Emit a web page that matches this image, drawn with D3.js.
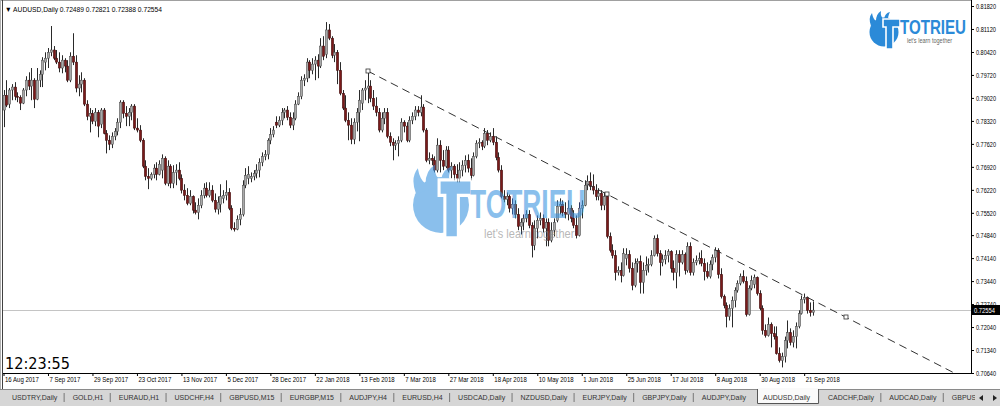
<!DOCTYPE html>
<html><head><meta charset="utf-8">
<script src="https://cdn.jsdelivr.net/npm/d3@7"></script>
<style>html,body{margin:0;padding:0;background:#fff;overflow:hidden}svg{display:block}</style>
</head><body><svg id="c" width="1000" height="406"></svg>
<script>
// ---------------- DATA ----------------
const headerText = "\u25BC AUDUSD,Daily  0.72489 0.72821 0.72388 0.72554";
const opens = [
.7865,.7910,.7883,.7926,.7935,.7907,.7904,.7886,.7926,.7956,
.7938,.7956,.7898,.7956,.7974,.8011,.8023,.8041,.8048,.8023,
.8011,.7993,.8017,.7999,.7956,.8029,.8011,.7932,.7944,.7956,
.7883,.7846,.7855,.7831,.7858,.7822,.7865,.7794,.7773,.7761,
.7785,.7800,.7828,.7889,.7855,.7846,.7858,.7877,.7810,.7804,
.7773,.7694,.7663,.7657,.7669,.7688,.7669,.7682,.7718,.7642,
.7694,.7642,.7675,.7682,.7657,.7621,.7605,.7581,.7602,.7560,
.7553,.7575,.7605,.7627,.7605,.7621,.7590,.7563,.7578,.7596,
.7605,.7614,.7566,.7505,.7502,.7532,.7547,.7636,.7657,.7657,
.7663,.7672,.7682,.7706,.7724,.7730,.7773,.7791,.7828,.7819,
.7834,.7858,.7865,.7843,.7819,.7840,.7883,.7907,.7956,.7962,
.8011,.7986,.8005,.8017,.7999,.8060,.8035,.8109,.8084,.8032,
.8041,.7986,.7916,.7871,.7834,.7819,.7776,.7828,.7858,.7886,
.7926,.7932,.7938,.7901,.7877,.7858,.7804,.7840,.7858,.7785,
.7767,.7758,.7764,.7773,.7828,.7816,.7773,.7834,.7846,.7865,
.7858,.7874,.7804,.7712,.7718,.7712,.7682,.7758,.7712,.7694,
.7743,.7682,.7694,.7669,.7657,.7682,.7697,.7712,.7688,.7666,
.7724,.7764,.7767,.7755,.7794,.7773,.7785,.7767,.7721,.7682,
.7602,.7593,.7602,.7566,.7578,.7547,.7511,.7523,.7535,.7547,
.7514,.7453,.7505,.7529,.7535,.7505,.7523,.7468,.7499,.7529,
.7572,.7578,.7553,.7547,.7566,.7535,.7514,.7483,.7566,.7575,
.7636,.7648,.7633,.7621,.7602,.7611,.7575,.7602,.7480,.7438,
.7422,.7370,.7377,.7361,.7413,.7425,.7383,.7331,.7398,.7404,
.7340,.7377,.7392,.7395,.7422,.7474,.7428,.7401,.7410,.7422,
.7434,.7383,.7370,.7425,.7401,.7425,.7377,.7450,.7370,.7401,
.7407,.7413,.7398,.7373,.7358,.7395,.7416,.7438,.7364,.7297,
.7270,.7236,.7261,.7285,.7316,.7337,.7358,.7343,.7242,.7322,
.7334,.7355,.7306,.7261,.7194,.7178,.7212,.7184,.7175,.7123,
.7102,.7114,.7163,.7187,.7157,.7175,.7206,.7245,.7288,.7294,
.7255,.72489];
const highs = [
.7926,.7956,.7932,.7944,.7950,.7919,.7910,.7932,.7968,.7980,
.7993,.7962,.7993,.7986,.8026,.8041,.8054,.8121,.8060,.8048,
.8041,.8032,.8023,.8017,.8041,.8099,.8032,.7971,.7980,.7962,
.7895,.7871,.7865,.7871,.7865,.7871,.7871,.7804,.7788,.7797,
.7810,.7840,.7895,.7895,.7877,.7871,.7883,.7883,.7840,.7819,
.7779,.7712,.7688,.7675,.7700,.7706,.7712,.7730,.7724,.7712,
.7700,.7697,.7700,.7706,.7669,.7639,.7627,.7621,.7605,.7584,
.7596,.7621,.7642,.7645,.7645,.7636,.7611,.7602,.7639,.7621,
.7651,.7627,.7575,.7523,.7544,.7566,.7651,.7688,.7694,.7675,
.7682,.7700,.7718,.7736,.7743,.7779,.7810,.7816,.7846,.7846,
.7871,.7871,.7877,.7858,.7858,.7895,.7919,.7968,.7974,.8023,
.8017,.8023,.8029,.8035,.8084,.8090,.8133,.8127,.8090,.8066,
.8048,.8011,.7926,.7910,.7858,.7840,.7840,.7871,.7926,.7932,
.7956,.7986,.7956,.7926,.7904,.7871,.7858,.7871,.7871,.7797,
.7779,.7773,.7785,.7840,.7834,.7828,.7846,.7858,.7877,.7877,
.7910,.7883,.7810,.7736,.7730,.7724,.7779,.7773,.7743,.7755,
.7755,.7706,.7700,.7700,.7706,.7712,.7727,.7730,.7718,.7736,
.7773,.7779,.7773,.7810,.7804,.7797,.7810,.7785,.7736,.7697,
.7621,.7614,.7608,.7596,.7590,.7566,.7535,.7547,.7560,.7560,
.7523,.7529,.7544,.7553,.7547,.7535,.7535,.7523,.7535,.7590,
.7596,.7590,.7584,.7590,.7575,.7560,.7544,.7584,.7590,.7651,
.7666,.7675,.7669,.7639,.7627,.7621,.7614,.7614,.7492,.7456,
.7438,.7389,.7401,.7444,.7444,.7438,.7401,.7413,.7413,.7422,
.7401,.7419,.7413,.7438,.7483,.7486,.7438,.7425,.7438,.7441,
.7438,.7407,.7438,.7438,.7438,.7431,.7462,.7462,.7413,.7422,
.7431,.7438,.7413,.7401,.7407,.7425,.7447,.7444,.7383,.7303,
.7279,.7273,.7297,.7325,.7346,.7367,.7377,.7358,.7331,.7361,
.7364,.7358,.7316,.7270,.7212,.7233,.7218,.7206,.7206,.7142,
.7126,.7175,.7224,.7200,.7194,.7218,.7255,.7300,.7306,.7297,
.7279,.72821];
const lows = [
.7813,.7874,.7871,.7895,.7895,.7889,.7865,.7883,.7907,.7926,
.7895,.7871,.7895,.7935,.7935,.7986,.7993,.8029,.8017,.8005,
.7980,.7977,.7980,.7950,.7950,.8002,.7919,.7907,.7919,.7877,
.7834,.7797,.7822,.7816,.7782,.7810,.7791,.7733,.7743,.7749,
.7773,.7788,.7810,.7840,.7816,.7816,.7834,.7804,.7797,.7767,
.7688,.7651,.7624,.7651,.7657,.7651,.7666,.7657,.7636,.7633,
.7627,.7627,.7636,.7651,.7611,.7590,.7575,.7575,.7550,.7547,
.7532,.7566,.7596,.7599,.7599,.7584,.7553,.7547,.7553,.7581,
.7590,.7560,.7499,.7495,.7499,.7514,.7541,.7627,.7639,.7645,
.7651,.7657,.7660,.7694,.7712,.7715,.7761,.7782,.7810,.7813,
.7819,.7840,.7834,.7810,.7804,.7834,.7880,.7898,.7938,.7950,
.7962,.7974,.7956,.7962,.7993,.8017,.8023,.8078,.8023,.8011,
.7944,.7910,.7865,.7828,.7773,.7761,.7761,.7800,.7770,.7865,
.7895,.7886,.7889,.7865,.7846,.7797,.7797,.7822,.7779,.7755,
.7712,.7743,.7724,.7767,.7797,.7767,.7767,.7822,.7834,.7846,
.7846,.7797,.7706,.7700,.7697,.7675,.7675,.7675,.7682,.7688,
.7675,.7657,.7651,.7645,.7645,.7663,.7675,.7675,.7651,.7663,
.7718,.7749,.7743,.7749,.7758,.7767,.7758,.7712,.7675,.7596,
.7584,.7575,.7553,.7547,.7535,.7499,.7486,.7499,.7523,.7505,
.7416,.7438,.7474,.7514,.7492,.7450,.7450,.7462,.7480,.7523,
.7547,.7541,.7535,.7529,.7523,.7505,.7474,.7480,.7535,.7572,
.7621,.7621,.7608,.7590,.7590,.7560,.7560,.7474,.7431,.7413,
.7346,.7361,.7340,.7358,.7392,.7370,.7316,.7325,.7370,.7306,
.7306,.7361,.7370,.7389,.7419,.7419,.7361,.7389,.7395,.7401,
.7370,.7346,.7322,.7358,.7395,.7364,.7370,.7361,.7361,.7392,
.7395,.7389,.7346,.7352,.7352,.7377,.7401,.7352,.7291,.7261,
.7203,.7224,.7203,.7264,.7309,.7331,.7337,.7236,.7239,.7316,
.7322,.7300,.7255,.7181,.7172,.7175,.7142,.7166,.7120,.7096,
.7081,.7096,.7139,.7148,.7142,.7139,.7200,.7242,.7276,.7245,
.7236,.72388];
const closes = [
.7910,.7880,.7926,.7935,.7907,.7904,.7886,.7926,.7956,.7938,
.7956,.7898,.7956,.7974,.8017,.8023,.8041,.8048,.8023,.8011,
.7993,.8017,.7999,.7956,.8029,.8011,.7932,.7944,.7956,.7883,
.7846,.7855,.7831,.7858,.7816,.7865,.7794,.7773,.7761,.7785,
.7800,.7828,.7889,.7855,.7846,.7858,.7877,.7810,.7804,.7773,
.7694,.7663,.7657,.7669,.7688,.7669,.7700,.7718,.7642,.7694,
.7642,.7675,.7682,.7657,.7621,.7605,.7581,.7602,.7560,.7553,
.7575,.7605,.7627,.7605,.7621,.7590,.7563,.7584,.7602,.7605,
.7614,.7566,.7505,.7502,.7532,.7547,.7636,.7666,.7669,.7663,
.7672,.7682,.7706,.7724,.7730,.7773,.7791,.7804,.7819,.7834,
.7858,.7865,.7843,.7819,.7840,.7883,.7907,.7956,.7962,.8011,
.7986,.8005,.8017,.7999,.8060,.8029,.8109,.8084,.8032,.8041,
.7986,.7916,.7871,.7834,.7819,.7776,.7828,.7858,.7895,.7926,
.7932,.7938,.7901,.7877,.7858,.7804,.7840,.7858,.7785,.7767,
.7758,.7764,.7773,.7828,.7816,.7773,.7834,.7846,.7865,.7858,
.7874,.7804,.7712,.7718,.7712,.7682,.7758,.7712,.7694,.7743,
.7682,.7694,.7669,.7657,.7682,.7697,.7712,.7688,.7666,.7724,
.7764,.7767,.7755,.7794,.7773,.7785,.7767,.7721,.7682,.7602,
.7593,.7602,.7566,.7578,.7547,.7511,.7523,.7535,.7547,.7514,
.7453,.7505,.7529,.7535,.7505,.7523,.7468,.7499,.7523,.7572,
.7578,.7553,.7547,.7566,.7535,.7514,.7483,.7566,.7575,.7636,
.7648,.7633,.7621,.7602,.7611,.7575,.7602,.7480,.7438,.7422,
.7370,.7377,.7361,.7428,.7425,.7383,.7331,.7398,.7404,.7340,
.7377,.7392,.7395,.7422,.7474,.7428,.7401,.7410,.7422,.7434,
.7383,.7370,.7425,.7401,.7425,.7377,.7450,.7370,.7401,.7407,
.7413,.7398,.7373,.7358,.7395,.7416,.7438,.7364,.7297,.7270,
.7236,.7261,.7285,.7316,.7337,.7358,.7343,.7242,.7322,.7346,
.7355,.7306,.7261,.7194,.7178,.7212,.7184,.7175,.7123,.7102,
.7114,.7163,.7187,.7157,.7175,.7206,.7245,.7288,.7294,.7255,
.7248,.72554];
const dateLabels = ["16 Aug 2017","7 Sep 2017","29 Sep 2017","23 Oct 2017","13 Nov 2017","5 Dec 2017",
  "28 Dec 2017","22 Jan 2018","13 Feb 2018","7 Mar 2018","27 Mar 2018","18 Apr 2018","10 May 2018",
  "1 Jun 2018","25 Jun 2018","17 Jul 2018","8 Aug 2018","30 Aug 2018","21 Sep 2018"];
const dateLabelBars = [0,16,32,48,64,80,96,112,128,144,160,176,192,208,224,240,256,272,288];
const priceTicks = [0.81820,0.81120,0.80420,0.79720,0.79020,0.78320,0.77620,0.76920,0.76220,
  0.75520,0.74840,0.74140,0.73440,0.72740,0.72040,0.71340,0.70640];
const lastPrice = 0.72554;
const trendBars = [131, 303];
const trendPrices = [0.7984, 0.7234];
const clockText = "12:23:55";
const tabs = ["USDTRY,Daily","GOLD,H1","EURAUD,H1","USDCHF,H4","GBPUSD,M15","EURGBP,M15","AUDJPY,H4",
  "EURUSD,H4","USDCAD,Daily","NZDUSD,Daily","EURJPY,Daily","GBPJPY,Daily","AUDJPY,Daily","AUDUSD,Daily",
  "CADCHF,Daily","AUDCAD,Daily","GBPUSD,Daily"];
const activeTab = 13;
const brandName = "TOTRIEU";
const brandSlogan = "let's learn together";

// ---------------- DRAW ----------------
const W = 1000, H = 406;
const PL = 3, PR = 971, PT = 0, PB = 373;
const FONT = "'Liberation Sans', Arial, sans-serif";
const svg = d3.select("#c");
svg.append("rect").attr("width", W).attr("height", H).attr("fill", "#fff");

const x = d3.scaleLinear().domain([0, 291]).range([3.5, 812.5]);
const y = d3.scaleLinear().domain([0.70640, 0.81820]).range([373, 6]);

const defs = svg.append("defs");
defs.append("clipPath").attr("id", "plot").append("rect")
  .attr("x", PL).attr("y", PT).attr("width", PR - PL).attr("height", PB - PT);
defs.append("clipPath").attr("id", "tabclip").append("rect")
  .attr("x", 0).attr("y", 385).attr("width", 975).attr("height", 21);

// borders
svg.append("line").attr("x1", 0).attr("x2", PR).attr("y1", 0.5).attr("y2", 0.5).attr("stroke", "#a0a0a0");
svg.append("line").attr("x1", 0.5).attr("x2", 0.5).attr("y1", 0).attr("y2", 389).attr("stroke", "#b0b0b0");
svg.append("line").attr("x1", 2.5).attr("x2", 2.5).attr("y1", 0).attr("y2", 389).attr("stroke", "#404040");

// last price line
const yl = Math.round(y(lastPrice)) + 0.5;
svg.append("line").attr("x1", PL).attr("x2", PR).attr("y1", yl).attr("y2", yl).attr("stroke", "#c4c4c4");

// candles
const bars = d3.range(opens.length).map(i => ({i, o: opens[i], h: highs[i], l: lows[i], c: closes[i]}));
const cg = svg.append("g").attr("clip-path", "url(#plot)");
cg.selectAll("line.w").data(bars).join("line").attr("class", "w")
  .attr("x1", d => Math.round(x(d.i)) + 0.5).attr("x2", d => Math.round(x(d.i)) + 0.5)
  .attr("y1", d => y(d.h)).attr("y2", d => y(d.l))
  .attr("stroke", "#2a2a2a").attr("stroke-width", 1);
cg.selectAll("rect.b").data(bars).join("rect").attr("class", "b")
  .attr("x", d => Math.round(x(d.i)) + 0.5 - 1.2).attr("width", 2.4)
  .attr("y", d => y(Math.max(d.o, d.c)))
  .attr("height", d => Math.max(1, Math.abs(y(d.o) - y(d.c))))
  .attr("fill", d => d.c >= d.o ? "#a9a9a9" : "#7a1a1a")
  .attr("stroke", d => d.c >= d.o ? "#4a4a4a" : "#3a0d0d").attr("stroke-width", 0.5);

// trend line (ray)
const tp = i => trendPrices[0] + (trendPrices[1] - trendPrices[0]) * (i - trendBars[0]) / (trendBars[1] - trendBars[0]);
const tg = svg.append("g").attr("clip-path", "url(#plot)");
tg.append("line")
  .attr("x1", x(trendBars[0])).attr("y1", y(trendPrices[0]))
  .attr("x2", x(420)).attr("y2", y(tp(420)))
  .attr("stroke", "#333").attr("stroke-width", 1).attr("stroke-dasharray", "8,5");
const midBar = (trendBars[0] + trendBars[1]) / 2;
[[trendBars[0], trendPrices[0]], [midBar, tp(midBar)], [trendBars[1], trendPrices[1]]].forEach(([b, p]) => {
  tg.append("rect").attr("x", Math.round(x(b)) - 2).attr("y", Math.round(y(p)) - 2)
    .attr("width", 4).attr("height", 4).attr("fill", "#fff").attr("stroke", "#333").attr("stroke-width", 0.8);
});

// logo icon
function drawIcon(g, color) {
  g.append("circle").attr("cx", 0).attr("cy", 0).attr("r", 14.5).attr("fill", color);
  g.append("path").attr("d", "M-13,-6 Q-16,-14 -12,-19 Q-11,-13 -8,-11 Q-8,-18 -3,-21 Q-4,-15 0,-13 Q1,-19 6,-20 Q3,-15 5,-11 Z").attr("fill", color);
  g.append("path").attr("d", "M-1,-13 H16 V-5 H9 V17 H2 V-5 H-1 Z")
    .attr("fill", color).attr("stroke", "#fff").attr("stroke-width", 1.6);
}
// watermark
const wm = svg.append("g").attr("opacity", 0.6);
drawIcon(wm.append("g").attr("transform", "translate(441,205) scale(1.93)"), "#3d96e0");
wm.append("text").attr("transform", "translate(470,218) scale(0.66,1)").text(brandName)
  .attr("font-family", FONT).attr("font-weight", "bold").attr("font-size", 40).attr("fill", "#3d96e0");
wm.append("text").attr("transform", "translate(484,238) scale(0.92,1)").text(brandSlogan)
  .attr("font-family", FONT).attr("font-size", 12).attr("fill", "#8a8a8a");

// top-right logo
drawIcon(svg.append("g").attr("transform", "translate(884,32)"), "#2b8ad8");
svg.append("text").attr("transform", "translate(900,34) scale(0.72,1)").text(brandName)
  .attr("font-family", FONT).attr("font-weight", "bold").attr("font-size", 21).attr("fill", "#2b8ad8");
svg.append("text").attr("transform", "translate(907,43) scale(0.85,1)").text(brandSlogan)
  .attr("font-family", FONT).attr("font-size", 6.5).attr("fill", "#666");

// header
svg.append("text").attr("x", 5).attr("y", 12).text(headerText)
  .attr("font-family", FONT).attr("font-size", 7.5)
  .attr("textLength", 157).attr("lengthAdjust", "spacingAndGlyphs").attr("fill", "#000");

// price axis
const ya = svg.append("g").attr("transform", `translate(${PR},0)`)
  .call(d3.axisRight(y).tickValues(priceTicks).tickSize(3).tickPadding(2).tickFormat(d => d.toFixed(5)));
ya.select(".domain").remove();
ya.selectAll(".tick line").attr("stroke", "#000");
ya.selectAll(".tick text").attr("font-family", FONT).attr("font-size", 7).attr("fill", "#000")
  .attr("textLength", 20).attr("lengthAdjust", "spacingAndGlyphs");
svg.append("line").attr("x1", PR + 0.5).attr("x2", PR + 0.5).attr("y1", 0).attr("y2", PB).attr("stroke", "#000");

// last price box
svg.append("rect").attr("x", PR + 1).attr("y", yl - 5.5).attr("width", W - PR - 1).attr("height", 10).attr("fill", "#000");
svg.append("text").attr("x", PR + 3).attr("y", yl + 2.5).text(lastPrice.toFixed(5))
  .attr("font-family", FONT).attr("font-size", 7).attr("fill", "#fff")
  .attr("textLength", 21).attr("lengthAdjust", "spacingAndGlyphs");

// date axis
const xa = svg.append("g").attr("transform", `translate(0,${PB})`)
  .call(d3.axisBottom(x).tickValues(dateLabelBars).tickSize(3).tickFormat((d, i) => dateLabels[i]));
xa.select(".domain").remove();
xa.selectAll(".tick line").attr("stroke", "#000");
xa.selectAll(".tick text").attr("font-family", FONT).attr("font-size", 7).attr("fill", "#000")
  .attr("text-anchor", "start").attr("x", 1).attr("y", 4)
  .each(function() { const n = this.getComputedTextLength(); d3.select(this).attr("textLength", n * 0.86).attr("lengthAdjust", "spacingAndGlyphs"); });
svg.append("line").attr("x1", PL).attr("x2", PR + 1).attr("y1", PB + 0.5).attr("y2", PB + 0.5).attr("stroke", "#000");

// clock
svg.append("text").attr("x", 5).attr("y", 369).text(clockText)
  .attr("font-family", "'DejaVu Sans', sans-serif").attr("font-size", 15).attr("fill", "#000")
  .attr("textLength", 65).attr("lengthAdjust", "spacingAndGlyphs");

// tab bar
svg.append("rect").attr("x", 0).attr("y", 389).attr("width", W).attr("height", H - 389).attr("fill", "#d6d6d6");
svg.append("line").attr("x1", 0).attr("x2", W).attr("y1", 389.5).attr("y2", 389.5).attr("stroke", "#8a8a8a");
const tabG = svg.append("g").attr("clip-path", "url(#tabclip)");
const tmp = tabG.append("text").attr("font-family", FONT).attr("font-size", 7);
const widths = tabs.map(t => { tmp.text(t); return tmp.node().getComputedTextLength(); });
tmp.remove();
const firstX = 12, activeX = 763;
const sumW = d3.sum(widths.slice(0, activeTab));
const gap = (activeX - firstX - sumW - 17) / (activeTab - 1);
let tx = firstX;
tabs.forEach((t, k) => {
  if (k === activeTab) {
    tabG.append("rect").attr("x", tx - 6).attr("y", 388).attr("width", widths[k] + 15).attr("height", 16).attr("fill", "#fafafa");
    tabG.append("path").attr("d", `M${tx - 5.5},389 V403.5 H${tx + widths[k] + 8.5} V389`).attr("fill", "none").attr("stroke", "#555");
  }
  tabG.append("text").attr("x", tx).attr("y", 400).text(t).attr("font-family", FONT).attr("font-size", 7).attr("fill", "#333");
  let nx;
  if (k === activeTab - 1) nx = tx + widths[k] + 17;
  else if (k === activeTab) nx = tx + widths[k] + 18;
  else {
    const sx = tx + widths[k] + gap - 9;
    tabG.append("line").attr("x1", sx + 0.5).attr("x2", sx + 0.5).attr("y1", 393).attr("y2", 402).attr("stroke", "#777");
    nx = tx + widths[k] + gap;
  }
  tx = nx;
});
svg.append("path").attr("d", "M983,395 L979,398 L983,401 Z").attr("fill", "#222");
svg.append("path").attr("d", "M993,395 L997,398 L993,401 Z").attr("fill", "#222");
</script></body></html>
